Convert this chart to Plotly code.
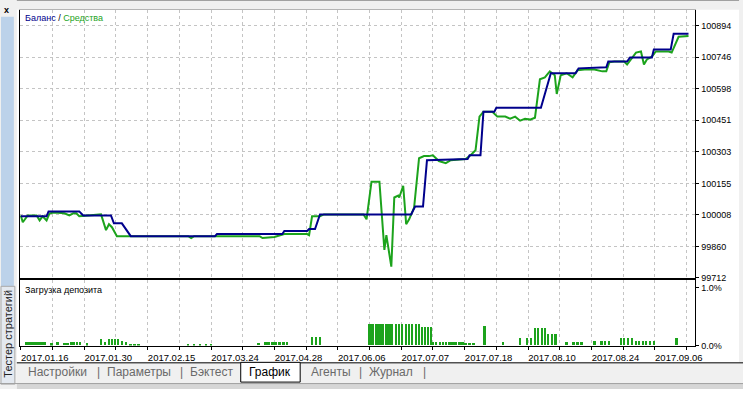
import plotly.graph_objects as go

W, H = 750, 394

# ---------------- data ----------------
# x = bar index along the tester axis (MetaTrader style, not linear time)
balance_x = [1, 27, 29, 60, 64, 92, 95, 103, 112, 197, 199, 265, 267, 290, 292, 298, 303, 395,
             399, 407, 411, 452, 454, 465, 468, 479, 481, 526, 536, 561, 564, 592, 594, 613,
             616, 638, 640, 657, 660, 675]
balance_y = [100001, 100001, 100024, 100024, 100005, 100005, 99968, 99968, 99908, 99908, 99918,
             99918, 99932, 99932, 99941, 99941, 100010, 100010, 100047, 100047, 100264, 100269,
             100287, 100287, 100491, 100491, 100509, 100509, 100671, 100671, 100694, 100699,
             100726, 100726, 100745, 100745, 100782, 100782, 100856, 100856]

equity_x = [1, 3, 8, 17, 20, 23, 27, 30, 35, 45, 50, 54, 57, 60, 82, 87, 90, 93, 98, 170, 173,
            176, 242, 245, 257, 263, 267, 290, 292, 295, 303, 307, 347, 350, 355, 363, 367, 368,
            370, 372, 375, 378, 382, 383, 387, 390, 393, 398, 403, 408, 413, 417, 420, 423, 430,
            435, 450, 455, 460, 464, 468, 477, 482, 490, 495, 500, 505, 510, 515, 520, 525, 530,
            535, 540, 542, 546, 552, 558, 563, 570, 580, 588, 592, 595, 600, 610, 613, 617, 622,
            627, 630, 633, 638, 642, 655, 658, 662, 665, 675]
equity_y = [100005, 99973, 100005, 100005, 99982, 100001, 99982, 100015, 100019, 100015, 100005,
            100015, 100015, 100001, 100010, 99936, 99964, 99950, 99908, 99908, 99899, 99908,
            99908, 99899, 99904, 99913, 99918, 99918, 99913, 100001, 100001, 100010, 100010,
            99987, 100163, 100163, 99904, 99844, 99913, 99858, 99765, 100089, 100098, 100089,
            100144, 99964, 99987, 100042, 100273, 100283, 100283, 100287, 100273, 100260, 100250,
            100264, 100269, 100287, 100310, 100468, 100491, 100491, 100468, 100468, 100458,
            100468, 100449, 100458, 100454, 100463, 100643, 100652, 100680, 100662, 100574,
            100662, 100671, 100652, 100685, 100689, 100689, 100680, 100680, 100722, 100726,
            100726, 100712, 100736, 100768, 100773, 100712, 100736, 100749, 100773, 100773,
            100768, 100814, 100842, 100846]

load_x = [7, 10, 13, 16, 19, 22, 25, 32, 38, 45, 48, 52, 55, 58, 61, 68,
          82, 86, 90, 93, 96, 99, 103, 107, 112, 116, 120,
          170, 176, 182, 188, 193,
          241, 248, 251, 255, 258, 262, 266, 270, 295, 299, 303,
          353, 356, 360, 363, 366, 370, 373, 376, 380, 383, 386, 390, 393, 396, 400, 403,
          406, 409, 412, 415,
          417, 420, 424, 427, 430, 434, 437, 440, 444, 447,
          450, 454, 458, 469,
          488, 505, 512, 516, 520, 523, 527, 530, 533, 537, 541, 552, 559, 563, 567,
          580, 587, 591, 595, 607, 610, 614, 618, 622, 625, 629, 632, 636, 640, 663]
load_pct = [0.05, 0.05, 0.05, 0.05, 0.05, 0.05, 0.05, 0.03, 0.05, 0.04, 0.04, 0.05, 0.05, 0.05, 0.05, 0.03,
            0.1, 0.05, 0.1, 0.1, 0.1, 0.1, 0.07, 0.05, 0.02, 0.02, 0.02,
            0.02, 0.02, 0.02, 0.02, 0.02,
            0.04, 0.05, 0.05, 0.05, 0.05, 0.05, 0.05, 0.05, 0.15, 0.15, 0.15,
            0.36, 0.36, 0.36, 0.36, 0.36, 0.36, 0.36, 0.36, 0.36, 0.36, 0.36, 0.36, 0.36, 0.36, 0.36, 0.36,
            0.32, 0.32, 0.32, 0.32,
            0.05, 0.05, 0.05, 0.05, 0.05, 0.05, 0.05, 0.05, 0.05, 0.05,
            0.035, 0.035, 0.035, 0.33,
            0.05, 0.12, 0.12, 0.12, 0.3, 0.3, 0.3, 0.3, 0.2, 0.2, 0.2, 0.05, 0.05, 0.05, 0.05,
            0.067, 0.067, 0.067, 0.067, 0.12, 0.12, 0.12, 0.12, 0.067, 0.067, 0.067, 0.067, 0.067, 0.067, 0.13]

y_ticks = [99712, 99860, 100008, 100155, 100303, 100451, 100598, 100746, 100894]
date_labels = ["2017.01.16", "2017.01.30", "2017.02.15", "2017.03.24", "2017.04.28",
               "2017.06.06", "2017.07.07", "2017.07.18", "2017.08.10", "2017.08.24", "2017.09.06"]
tabs = ["Настройки", "Параметры", "Бэктест", "График", "Агенты", "Журнал"]

# ---------------- layout helpers ----------------
def fx(p):
    return p / W

def fy(p):
    return 1 - p / H

FONT = "Liberation Sans"
BLUE = "#00008c"
GREEN = "#1ca31c"
GRID = "#c4c4c4"

grid_vals = [1 + 32 * k for k in range(22)]
grid_text = []
for k in range(22):
    grid_text.append(date_labels[k // 2] if k % 2 == 0 else "")

fig = go.Figure()
fig.add_trace(go.Scatter(x=equity_x, y=equity_y, mode="lines",
                         line=dict(color=GREEN, width=2), xaxis="x", yaxis="y",
                         hoverinfo="skip", showlegend=False))
fig.add_trace(go.Scatter(x=balance_x, y=balance_y, mode="lines",
                         line=dict(color=BLUE, width=2), xaxis="x", yaxis="y",
                         hoverinfo="skip", showlegend=False))
fig.add_trace(go.Bar(x=load_x, y=load_pct, width=2, marker=dict(color=GREEN, line=dict(width=0)),
                     xaxis="x2", yaxis="y2", hoverinfo="skip", showlegend=False))

xdom = [fx(20), fx(702)]
axis_common = dict(showline=True, mirror=True, linecolor="black", linewidth=1, zeroline=False)

fig.update_layout(
    width=W, height=H, autosize=False,
    margin=dict(l=0, r=0, t=0, b=0, pad=0),
    paper_bgcolor="white", plot_bgcolor="white",
    font=dict(family=FONT, size=9, color="black"),
    bargap=0,
    xaxis=dict(domain=xdom, range=[0, 682], tickvals=grid_vals, showticklabels=False,
               showgrid=True, gridcolor=GRID, griddash="3px,3px", gridwidth=1,
               ticks="", anchor="y", **axis_common),
    yaxis=dict(domain=[fy(282), fy(10)], range=[99710, 100968], side="right",
               tickvals=y_ticks, ticktext=[str(v) for v in y_ticks],
               ticks="outside", ticklen=3, tickcolor="black",
               showgrid=True, gridcolor=GRID, griddash="3px,3px", gridwidth=1,
               tickfont=dict(family=FONT, size=9), anchor="x", **axis_common),
    xaxis2=dict(domain=xdom, range=[0, 682], tickvals=grid_vals, ticktext=grid_text,
                ticks="outside", ticklen=3, tickcolor="black", ticklabelshift=24,
                showgrid=True, gridcolor=GRID, griddash="3px,3px", gridwidth=1,
                tickfont=dict(family=FONT, size=9.5), anchor="y2", **axis_common),
    yaxis2=dict(domain=[fy(350), fy(284)], range=[0, 1.13], side="right",
                tickvals=[0, 1.0], ticktext=["0.0%", "1.0%"], ticks="outside", ticklen=3,
                tickcolor="black", showgrid=False, tickfont=dict(family=FONT, size=9),
                anchor="x2", **axis_common),
)

shapes = []
def rect(x0, y0, x1, y1, fill, line=None, lw=1):
    shapes.append(dict(type="rect", xref="paper", yref="paper",
                       x0=fx(x0), x1=fx(x1), y0=fy(y1), y1=fy(y0),
                       fillcolor=fill, line=dict(width=lw if line else 0, color=line or fill),
                       layer="above"))

def hline(x0, x1, y, color, lw=1):
    shapes.append(dict(type="line", xref="paper", yref="paper", x0=fx(x0), x1=fx(x1),
                       y0=fy(y), y1=fy(y), line=dict(color=color, width=lw), layer="above"))

# window chrome
rect(0, 0, 750, 10, "#f0f0f0")
hline(0, 750, 0.5, "#a0a0a0")
rect(746, 0, 750, 394, "#f0f0f0")
rect(0, 0, 17, 394, "#f0f0f0")
rect(1, 17, 14, 290, "#bcd2ea")
rect(1, 290, 15, 389, "#e4e9f0", line="#a8a8a8")
rect(17, 367, 746, 394, "#f0f0f0")
hline(17, 750, 367.5, "black")
rect(17, 388, 750, 394, "#d6d6d6")
hline(0, 750, 388.5, "#a0a0a0")
rect(243, 367, 303, 387, "white", line="black")
fig.update_layout(shapes=shapes)

ann = []
def text(x, y, s, size=9, color="black", xanchor="left", angle=0, bold=False):
    ann.append(dict(xref="paper", yref="paper", x=fx(x), y=fy(y), text=("<b>%s</b>" % s) if bold else s,
                    showarrow=False, xanchor=xanchor, yanchor="middle", textangle=angle,
                    font=dict(family=FONT, size=size, color=color)))

text(23, 18, "<span style='color:%s'>Баланс</span> / <span style='color:%s'>Средства</span>" % (BLUE, GREEN), size=9)
text(23, 294, "Загрузка депозита", size=9)
text(7, 10, "x", size=9, xanchor="center", bold=True)
text(8, 338, "Тестер стратегий", size=11, color="#222222", xanchor="center", angle=-90)

tab_pos = [(58, "#6a6a6a"), (140, "#6a6a6a"), (213, "#6a6a6a"), (273, "black"), (334, "#6a6a6a"), (395, "#6a6a6a")]
for (cx, col), name in zip(tab_pos, tabs):
    text(cx, 377, name, size=12, color=col, xanchor="center")
for sx in [99, 183, 364, 428]:
    text(sx, 377, "|", size=12, color="#6a6a6a", xanchor="center")
fig.update_layout(annotations=ann)

fig.write_html("out.html")
